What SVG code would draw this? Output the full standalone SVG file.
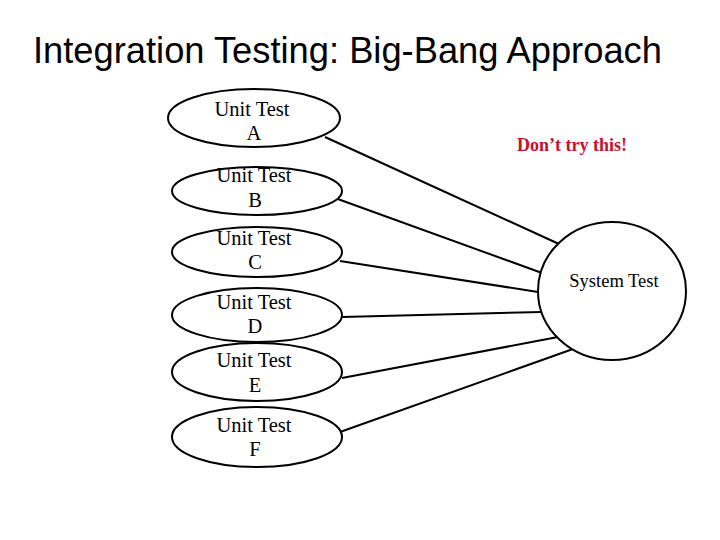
<svg xmlns="http://www.w3.org/2000/svg" width="720" height="540" viewBox="0 0 720 540">
<style>
.n{fill:#fff;stroke:#000;stroke-width:2}
.c line{stroke:#000;stroke-width:2}
.t{font-family:"Liberation Serif","Times New Roman",serif;font-size:20.5px;text-anchor:middle;fill:#000}
</style>
<rect width="720" height="540" fill="#fff"/>
<text x="33" y="63" font-family="Liberation Sans, Arial, sans-serif" font-size="36.3" fill="#000">Integration Testing: Big-Bang Approach</text>
<g class="c" id="connectors">
<line x1="325" y1="137" x2="559" y2="244"/>
<line x1="335" y1="198" x2="542" y2="273"/>
<line x1="340" y1="261" x2="538" y2="292"/>
<line x1="342" y1="317" x2="542" y2="312"/>
<line x1="342" y1="378" x2="558" y2="337"/>
<line x1="340" y1="432" x2="573" y2="349"/>
</g>
<g id="unitA"><ellipse class="n" cx="254" cy="118" rx="86" ry="29"/><text class="t" x="252" y="116">Unit Test</text><text class="t" x="254" y="140">A</text></g>
<g id="unitB"><ellipse class="n" cx="257" cy="191" rx="85" ry="24"/><text class="t" x="254" y="182">Unit Test</text><text class="t" x="255" y="207">B</text></g>
<g id="unitC"><ellipse class="n" cx="257" cy="252" rx="85" ry="25"/><text class="t" x="254" y="245">Unit Test</text><text class="t" x="255" y="269">C</text></g>
<g id="unitD"><ellipse class="n" cx="257" cy="315" rx="85" ry="27"/><text class="t" x="254" y="309">Unit Test</text><text class="t" x="255" y="333">D</text></g>
<g id="unitE"><ellipse class="n" cx="257" cy="372" rx="85" ry="29"/><text class="t" x="254" y="367">Unit Test</text><text class="t" x="255" y="392">E</text></g>
<g id="unitF"><ellipse class="n" cx="257" cy="437" rx="85" ry="30"/><text class="t" x="254" y="432">Unit Test</text><text class="t" x="255" y="456">F</text></g>
<g id="system"><ellipse class="n" cx="612" cy="291" rx="74" ry="69"/><text class="t" x="614" y="287" style="font-size:18.5px">System Test</text></g>
<text id="note" x="572" y="151" font-family="Liberation Serif, Times New Roman, serif" font-size="18" font-weight="bold" fill="#c8102e" text-anchor="middle">Don’t try this!</text>
</svg>
